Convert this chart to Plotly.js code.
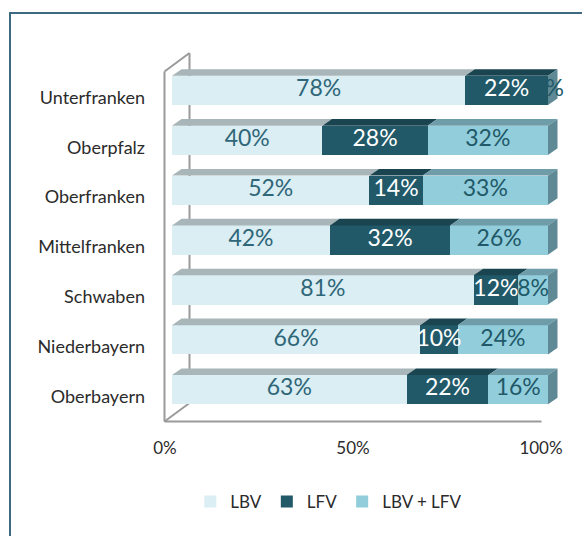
<!DOCTYPE html>
<html><head><meta charset="utf-8">
<script src="https://cdn.plot.ly/plotly-3.0.1.min.js"></script>
<style>
html,body{margin:0;padding:0;background:#fff;}
#chart{position:absolute;left:0;top:0;width:582px;height:536px;}
#frame{position:absolute;left:9px;top:12px;width:580px;height:530px;border-left:2px solid #3d6a80;border-top:2px solid #3d6a80;pointer-events:none;}
</style>
</head><body><div id="chart"></div><div id="frame"></div>
<script>
// ---- data ----
const categories = ['Oberbayern','Niederbayern','Schwaben','Mittelfranken','Oberfranken','Oberpfalz','Unterfranken'];
const lbv    = [63, 66, 81, 42, 52, 40, 78];
const lfv    = [22, 10, 12, 32, 14, 28, 22];
const lbvLfv = [16, 24,  8, 26, 33, 32,  0];
const seriesNames = ['LBV', 'LFV', 'LBV + LFV'];
const xTickVals = [0, 50, 100];
const xTickText = ['0%', '50%', '100%'];

// ---- style ----
const frontColors = ['#DAEEF3', '#215968', '#92CDDC'];
const topColors   = ['#A8B5B9', '#1A4550', '#6E9CA8'];
const sideColor   = '#5E8995';
const labelColors = ['#2F6678', '#FFFFFF', '#215968'];
const FONT = 'Lato, "Open Sans", sans-serif';

// pixel geometry
const G = {L:160, R:560, T:50, B:425, x0:172, x100:548, yIdx0:389.7, yIdx6:90.4};
const kx = (G.x100 - G.x0) / 100;
const ky = (G.yIdx0 - G.yIdx6) / 6;
const xr = [(G.L - G.x0) / kx, (G.R - G.x0) / kx];
const yr = [(G.yIdx0 - G.B) / ky, (G.yIdx0 - G.T) / ky];
const px2x = p => (p - G.x0) / kx;
const px2y = p => (G.yIdx0 - p) / ky;
const barW = 29.3 / ky;
const dX = 9.5 / kx, dY = 6.6 / ky;

const series = [lbv, lfv, lbvLfv];
const idx = categories.map((_, i) => i);

const traces = [];
series.forEach((vals, s) => {
  traces.push({
    type: 'bar', orientation: 'h', name: seriesNames[s],
    y: idx, x: vals, width: barW,
    marker: {color: frontColors[s], line: {width: 0}},
    hoverinfo: 'skip'
  });
});

// normalized cumulative positions
const starts = [[], [], []], ends = [[], [], []];
idx.forEach(i => {
  const tot = lbv[i] + lfv[i] + lbvLfv[i];
  let acc = 0;
  series.forEach((vals, s) => {
    starts[s][i] = acc;
    acc += vals[i] / tot * 100;
    ends[s][i] = acc;
  });
});

// top faces
series.forEach((vals, s) => {
  const xs = [], ys = [];
  idx.forEach(i => {
    const a = starts[s][i], b = ends[s][i], yf = i + barW / 2;
    xs.push(a, b, b + dX, a + dX, a, null);
    ys.push(yf, yf, yf + dY, yf + dY, yf, null);
  });
  traces.push({type: 'scatter', mode: 'lines', x: xs, y: ys, fill: 'toself',
    fillcolor: topColors[s], line: {width: 0, color: topColors[s]},
    showlegend: false, hoverinfo: 'skip'});
});

// side faces
{
  const xs = [], ys = [];
  idx.forEach(i => {
    const e = ends[2][i], yb = i - barW / 2, yf = i + barW / 2;
    xs.push(e, e, e + dX, e + dX, e, null);
    ys.push(yb, yf, yf + dY, yb + dY, yb, null);
  });
  traces.push({type: 'scatter', mode: 'lines', x: xs, y: ys, fill: 'toself',
    fillcolor: sideColor, line: {width: 0, color: sideColor},
    showlegend: false, hoverinfo: 'skip'});
}

// value labels
{
  const tx = [], ty = [], tt = [], tc = [];
  series.forEach((vals, s) => {
    idx.forEach(i => {
      tx.push((starts[s][i] + ends[s][i]) / 2);
      ty.push(i);
      tt.push(vals[i] + '%');
      tc.push(labelColors[s]);
    });
  });
  traces.push({type: 'scatter', mode: 'text', x: tx, y: ty, text: tt,
    textposition: 'middle center', cliponaxis: false,
    textfont: {family: FONT, size: 23, color: tc},
    showlegend: false, hoverinfo: 'skip'});
}

// 3D wall lines
const wallColor = '#9A9A9A';
const fx = 164.5, bx = 189.5, fTop = 71.5, bTop = 53, fBot = 421.5, bBot = 403, floorEnd = 541.5;
const seg = (x1, y1, x2, y2) => ({type: 'line', xref: 'x', yref: 'y', layer: 'below',
  x0: px2x(x1), y0: px2y(y1), x1: px2x(x2), y1: px2y(y2),
  line: {color: wallColor, width: 2}});
const shapes = [
  seg(fx, fTop, fx, fBot),
  seg(fx, fBot, floorEnd, fBot),
  seg(fx, fTop, bx, bTop),
  seg(fx, fBot, bx, bBot),
  seg(bx, bTop, bx, bBot)
];

const layout = {
  width: 582, height: 536,
  margin: {l: G.L, r: 582 - G.R, t: G.T, b: 536 - G.B, pad: 0},
  paper_bgcolor: '#fff', plot_bgcolor: 'rgba(0,0,0,0)',
  barmode: 'stack', barnorm: 'percent',
  font: {family: FONT, size: 16, color: '#2b2b2b'},
  showlegend: true,
  xaxis: {range: xr, tickvals: xTickVals, ticktext: xTickText, showgrid: false,
    zeroline: false, showline: false, ticks: '', ticklabelshift: -7,
    ticklabelstandoff: 11, tickfont: {family: FONT, size: 17, color: '#2b2b2b'}, fixedrange: true},
  yaxis: {range: yr, tickvals: idx, ticktext: categories, showgrid: false,
    zeroline: false, showline: false, ticks: '', ticklabelshift: 7,
    ticklabelstandoff: 14, tickfont: {family: FONT, size: 18, color: '#2b2b2b'}, fixedrange: true},
  legend: {orientation: 'h', xref: 'container', yref: 'container', x: 0.565, y: 0.0634,
    xanchor: 'center', yanchor: 'middle', font: {family: FONT, size: 17, color: '#2b2b2b'},
    itemwidth: 30, traceorder: 'normal'},
  shapes: shapes
};

Plotly.newPlot('chart', traces, layout, {staticPlot: true, displayModeBar: false});
</script>
</body></html>
